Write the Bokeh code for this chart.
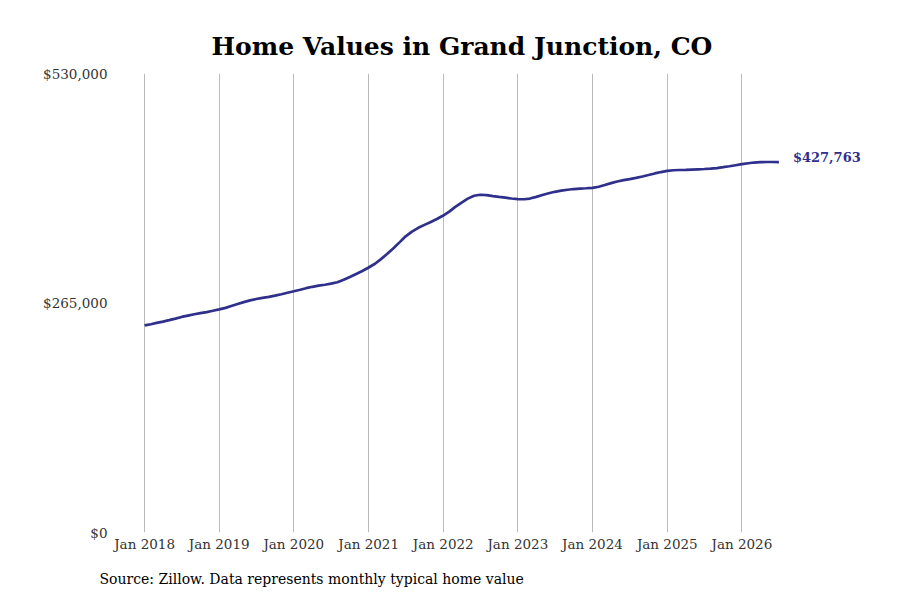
import pandas as pd
from bokeh.plotting import figure
from bokeh.models import (ColumnDataSource, FixedTicker, DatetimeTickFormatter, Label,
                          Range1d, Title, NumeralTickFormatter)
from bokeh.embed import file_html
from bokeh.resources import INLINE

title_text = "Home Values in Grand Junction, CO"
source_text = "Source: Zillow. Data represents monthly typical home value"

start_month = "2018-01-01"
values = [
    # 2018
    239100, 240500, 242000, 243500, 245200, 247000, 248900, 250500, 252000, 253300, 254500, 256000,
    # 2019
    257600, 259400, 261500, 263800, 266000, 268000, 269600, 270900, 272100, 273500, 275100, 276800,
    # 2020
    278500, 280300, 282100, 283700, 285000, 286100, 287300, 289000, 291800, 295000, 298400, 302000,
    # 2021
    306000, 310300, 315400, 321500, 328000, 335000, 342000, 347500, 351800, 355200, 358500, 362000,
    # 2022
    366000, 370800, 376000, 381000, 385500, 388800, 390000, 389500, 388400, 387500, 386600, 385700,
    # 2023
    385000, 384800, 385600, 387500, 389700, 391700, 393400, 394700, 395800, 396600, 397100, 397500,
    # 2024
    398000, 399200, 401200, 403400, 405300, 406800, 408100, 409500, 411100, 412800, 414600, 416200,
    # 2025
    417600, 418300, 418600, 418800, 419100, 419400, 419700, 420100, 420800, 421800, 422900, 424100,
    # 2026
    425300, 426400, 427200, 427600, 427800, 427800, 427763,
]
dates = pd.date_range(start_month, periods=len(values), freq="MS")
tick_dates = pd.date_range("2018-01-01", "2026-01-01", freq="YS")
y_ticks = [0, 265000, 530000]
last_label = "$427,763"

LINE = "#2f2f8c"
FONT = "DejaVu Serif"

src = ColumnDataSource(dict(date=dates, value=values))

x_start = pd.Timestamp("2017-07-28")
x_end = pd.Timestamp("2027-11-10")

p = figure(width=892, height=600, x_axis_type="datetime", output_backend="svg",
           toolbar_location=None,
           x_range=Range1d(x_start, x_end), y_range=Range1d(0, 530000),
           min_border_left=112, min_border_right=12, min_border_top=73, min_border_bottom=66)
p.outline_line_color = None
p.background_fill_color = "white"
p.border_fill_color = "white"

p.title.text = title_text
p.title.align = "left"
p.title.offset = 99
p.title.text_font = FONT
p.title.text_font_size = "25px"
p.title.text_font_style = "bold"
p.title.text_color = "#000000"
p.title.standoff = 26

p.line("date", "value", source=src, line_color=LINE, line_width=2.7)

p.xaxis.ticker = FixedTicker(ticks=[d.value // 10**6 for d in tick_dates])
p.xaxis.formatter = DatetimeTickFormatter(months="%b %Y", years="%b %Y", days="%b %Y")
p.yaxis.ticker = FixedTicker(ticks=y_ticks)
p.yaxis.formatter = NumeralTickFormatter(format="$0,0")

for ax in (p.xaxis[0], p.yaxis[0]):
    ax.axis_line_color = None
    ax.major_tick_line_color = None
    ax.minor_tick_line_color = None
    ax.major_tick_out = 0
    ax.major_tick_in = 0
    ax.minor_tick_out = 0
    ax.major_label_text_font = FONT
    ax.major_label_text_font_size = "13.5px"
    ax.major_label_text_color = "#333333"
p.xaxis.major_label_standoff = 3
p.yaxis.major_label_standoff = 5

p.xgrid.grid_line_color = "#bbbbbb"
p.xgrid.grid_line_width = 1
p.ygrid.grid_line_color = None

lbl = Label(x=dates[-1], y=values[-1], text=last_label, x_offset=14, y_offset=5,
            text_font=FONT, text_font_size="13px", text_font_style="bold",
            text_color=LINE, text_baseline="middle", text_align="left")
p.add_layout(lbl)

src_title = Title(text=source_text, align="left", text_font=FONT, text_font_size="14px",
                  text_font_style="normal", text_color="#000000", offset=-13, standoff=28)
p.add_layout(src_title, "below")

open("out.html", "w").write(file_html(p, INLINE))
